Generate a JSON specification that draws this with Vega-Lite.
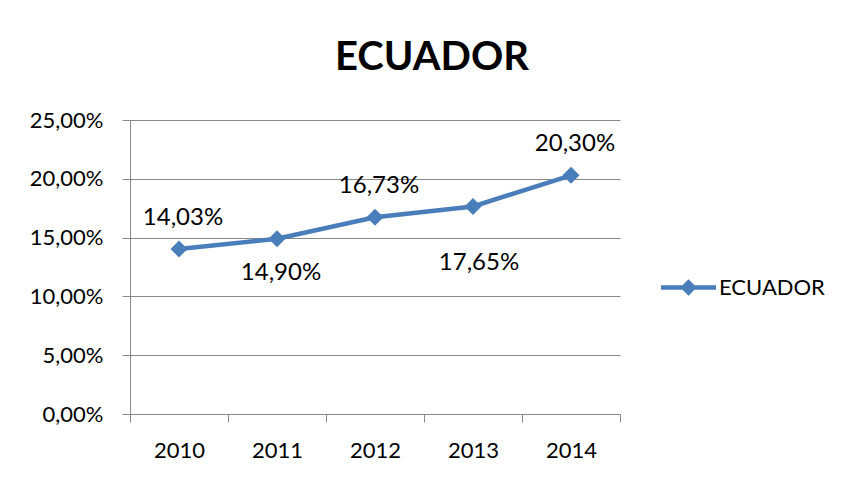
{
  "$schema": "https://vega.github.io/schema/vega-lite/v6.json",
  "width": 490,
  "height": 294,
  "autosize": {"type": "none"},
  "padding": {"left": 130, "top": 120, "right": 221, "bottom": 63},
  "background": "white",
  "title": {"text": "ECUADOR", "font": "Lato", "fontSize": 40, "fontWeight": "bold", "color": "#000000", "anchor": "middle", "dx": 57, "offset": -1, "baseline": "alphabetic"},
  "data": {"values": [
    {"year": "2010", "value": 0.1403, "pais": "ECUADOR"},
    {"year": "2011", "value": 0.1490, "pais": "ECUADOR"},
    {"year": "2012", "value": 0.1673, "pais": "ECUADOR"},
    {"year": "2013", "value": 0.1765, "pais": "ECUADOR"},
    {"year": "2014", "value": 0.2030, "pais": "ECUADOR"}
  ]},
  "encoding": {
    "x": {"field": "year", "type": "ordinal", "bandPosition": 0.5,
      "scale": {"type": "band", "paddingInner": 0, "paddingOuter": 0},
      "axis": {"title": null, "labelAngle": 0, "tickBand": "extent", "domainColor": "#898989", "tickColor": "#898989", "tickSize": 8, "labelFont": "Lato", "labelFontSize": 22, "labelColor": "#000000", "labelPadding": 18, "grid": false}},
    "y": {"field": "value", "type": "quantitative",
      "scale": {"domain": [0, 0.25], "nice": false, "zero": true},
      "axis": {"title": null, "values": [0, 0.05, 0.1, 0.15, 0.2, 0.25], "format": ".2%", "grid": true, "gridColor": "#898989", "domainColor": "#898989", "tickColor": "#898989", "tickSize": 8, "labelFont": "Lato", "labelFontSize": 22, "labelColor": "#000000", "labelPadding": 19}}
  },
  "layer": [
    {"mark": {"type": "line", "color": "#4A7EBB", "strokeWidth": 4.5}},
    {"mark": {"type": "point", "shape": "diamond", "filled": true, "size": 290, "opacity": 1},
      "encoding": {"color": {"field": "pais", "type": "nominal", "scale": {"range": ["#4A7EBB"]},
        "legend": {"title": null, "orient": "none", "legendX": 531, "legendY": 140, "padding": 0,
          "symbolType": "M-1,-0.08L1,-0.08L1,0.08L-1,0.08Z M-0.3,0L0,-0.3L0.3,0L0,0.3Z",
          "symbolSize": 3025, "symbolStrokeWidth": 0, "labelOffset": 3, "labelFont": "Lato", "labelFontSize": 22, "labelColor": "#000000"}}}},
    {"transform": [{"filter": {"field": "year", "oneOf": ["2010", "2012", "2014"]}}],
      "mark": {"type": "text", "font": "Lato", "fontSize": 24, "dx": 4, "dy": -31, "baseline": "middle", "color": "#000000"},
      "encoding": {"text": {"field": "value", "type": "quantitative", "format": ".2%"}}},
    {"transform": [{"filter": {"field": "year", "equal": "2011"}}],
      "mark": {"type": "text", "font": "Lato", "fontSize": 24, "dx": 4, "dy": 34, "baseline": "middle", "color": "#000000"},
      "encoding": {"text": {"field": "value", "type": "quantitative", "format": ".2%"}}},
    {"transform": [{"filter": {"field": "year", "equal": "2013"}}],
      "mark": {"type": "text", "font": "Lato", "fontSize": 24, "dx": 6, "dy": 57, "baseline": "middle", "color": "#000000"},
      "encoding": {"text": {"field": "value", "type": "quantitative", "format": ".2%"}}}
  ],
  "config": {
    "view": {"stroke": null},
    "locale": {"number": {"decimal": ",", "thousands": ".", "grouping": [3], "currency": ["", "€"]}}
  }
}
